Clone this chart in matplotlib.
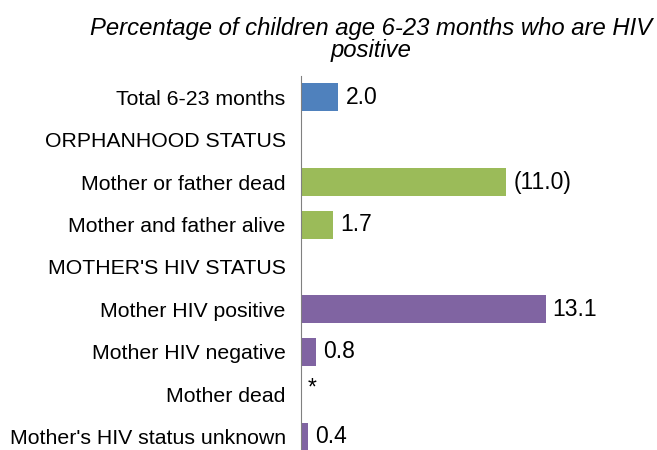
import matplotlib.pyplot as plt

plt.rcParams['font.family'] = ['Liberation Sans', 'DejaVu Sans']

categories = ["Total 6-23 months", "ORPHANHOOD STATUS", "Mother or father dead",
              "Mother and father alive", "MOTHER'S HIV STATUS", "Mother HIV positive",
              "Mother HIV negative", "Mother dead", "Mother's HIV status unknown"]
values = [2.0, None, 11.0, 1.7, None, 13.1, 0.8, 0.0, 0.4]
labels = ["2.0", "", "(11.0)", "1.7", "", "13.1", "0.8", "*", "0.4"]
colors = ["#4F81BD", None, "#9BBB59", "#9BBB59", None, "#8064A2", "#8064A2", "#8064A2", "#8064A2"]

fig = plt.figure(figsize=(6.57, 4.5), dpi=100)
ax = fig.add_axes([301 / 657, -8 / 450, 336 / 657, 382 / 450])

ypos = list(range(len(categories)))
for y, v, c, lab in zip(ypos, values, colors, labels):
    if v is None:
        continue
    if v > 0:
        ax.barh(y, v, height=0.66, color=c)
    ax.text(v + 0.38, y + (-0.15 if lab == "*" else 0), lab, va="center", ha="left", fontsize=16.5)

ax.set_ylim(len(categories) - 0.5, -0.5)
ax.set_xlim(0, 18)
ax.set_yticks(ypos)
ax.set_yticklabels(categories, fontsize=15.3)
ax.tick_params(axis="y", length=0, pad=11)
ax.set_xticks([])
for s in ["top", "right", "bottom"]:
    ax.spines[s].set_visible(False)
ax.spines["left"].set_color("#808080")

fig.text(0.565, 0.962, "Percentage of children age 6-23 months who are HIV\npositive",
         ha="center", va="top", fontsize=17.2, style="italic", linespacing=0.92)

fig.savefig("out.png", dpi=100)
